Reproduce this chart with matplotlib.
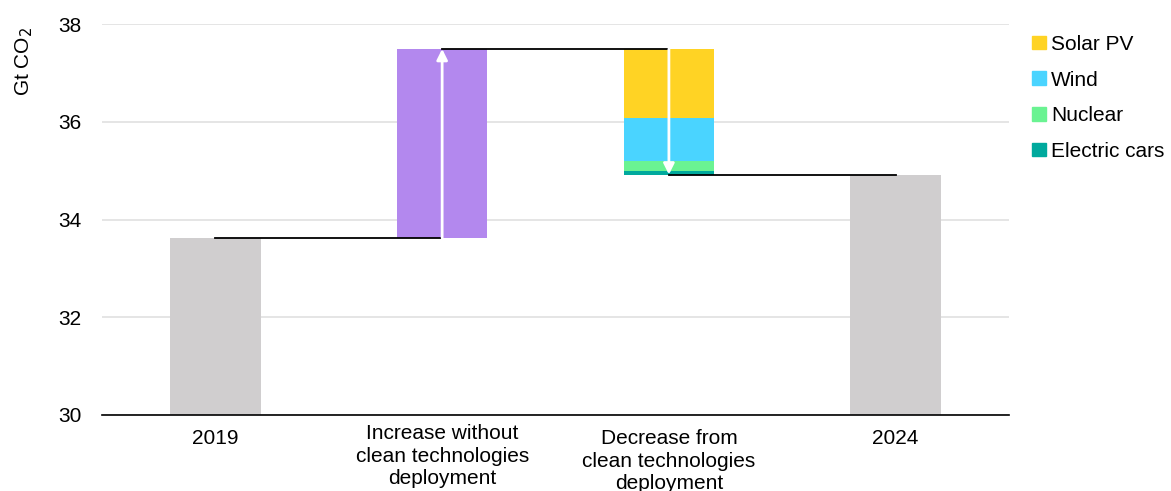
import matplotlib
matplotlib.use("Agg")
import numpy as np
from matplotlib import pyplot as plt
from matplotlib import transforms
from matplotlib.patches import Patch

plt.rcParams["font.family"] = ["Liberation Sans", "DejaVu Sans"]

# ------------------------------------
# Data (Gt CO2)

categories = [
    "2019",
    "Increase without\nclean technologies\ndeployment",
    "Decrease from\nclean technologies\ndeployment",
    "2024",
]
emissions_2019 = 33.62
increase_no_clean = 3.87
tech_names = ["Solar PV", "Wind", "Nuclear", "Electric cars"]
tech_savings = [1.41, 0.89, 0.20, 0.07]

tech_colors = ["#FFD324", "#4AD4FF", "#6AF392", "#00A99D"]
total_color = "#D0CECF"
increase_color = "#B388EE"

peak = emissions_2019 + increase_no_clean
emissions_2024 = peak - sum(tech_savings)

# ------------------------------------
# Plot

fig = plt.figure(figsize=(11.71, 4.91), dpi=100)
ax = fig.add_axes([0.0871, 0.1548, 0.7746, 0.7963])

x = np.arange(len(categories))
width = 0.4

ax.bar(x[0], emissions_2019, width, color=total_color, zorder=2)
ax.bar(x[1], increase_no_clean, width, bottom=emissions_2019, color=increase_color, zorder=2)

top = peak
for val, col in zip(tech_savings, tech_colors):
    ax.bar(x[2], val, width, bottom=top - val, color=col, zorder=2)
    top -= val

ax.bar(x[3], emissions_2024, width, color=total_color, zorder=2)

# connectors
levels = [emissions_2019, peak, emissions_2024]
for i, lvl in enumerate(levels):
    ax.plot([x[i], x[i + 1]], [lvl, lvl], color="black", lw=1.3, zorder=3)

# arrows
arrow_kw = dict(arrowstyle="-|>", color="white", lw=2, mutation_scale=16,
                shrinkA=0, shrinkB=0)
ax.annotate("", xy=(x[1], peak), xytext=(x[1], emissions_2019),
            arrowprops=arrow_kw, zorder=4)
ax.annotate("", xy=(x[2], emissions_2024), xytext=(x[2], peak),
            arrowprops=arrow_kw, zorder=4)

ax.set_xlim(-0.5, 3.5)
ax.set_ylim(30, 38)
ax.set_yticks([30, 32, 34, 36, 38])
ax.set_xticks(x)
ax.set_xticklabels(categories, fontsize=15, linespacing=1.25)
ax.tick_params(axis="x", length=0, pad=10)
ax.tick_params(axis="y", length=0, pad=14.5, labelsize=15)
ax.grid(axis="y", color="#E3E3E3", lw=1.3, zorder=0)

# the "increase" label sits a little higher in the original
lbl = ax.get_xticklabels()[1]
lbl.set_transform(lbl.get_transform()
                  + transforms.ScaledTranslation(0, 5 / 100, fig.dpi_scale_trans))

for side in ["left", "right", "top"]:
    ax.spines[side].set_visible(False)
ax.spines["bottom"].set_color("black")
ax.spines["bottom"].set_linewidth(1.2)
ax.spines["bottom"].set_zorder(5)

fig.text(0.021, 0.875, "Gt CO$_2$", rotation=90, fontsize=15, ha="center", va="center")

handles = [Patch(color=c, label=n) for n, c in zip(tech_names, tech_colors)]
fig.legend(handles=handles, loc="upper left", bbox_to_anchor=(0.8745, 0.946),
           frameon=False, fontsize=15, handlelength=0.65, handleheight=0.65,
           handletextpad=0.25, labelspacing=0.8, borderaxespad=0)

fig.savefig("out.png", dpi=100)
